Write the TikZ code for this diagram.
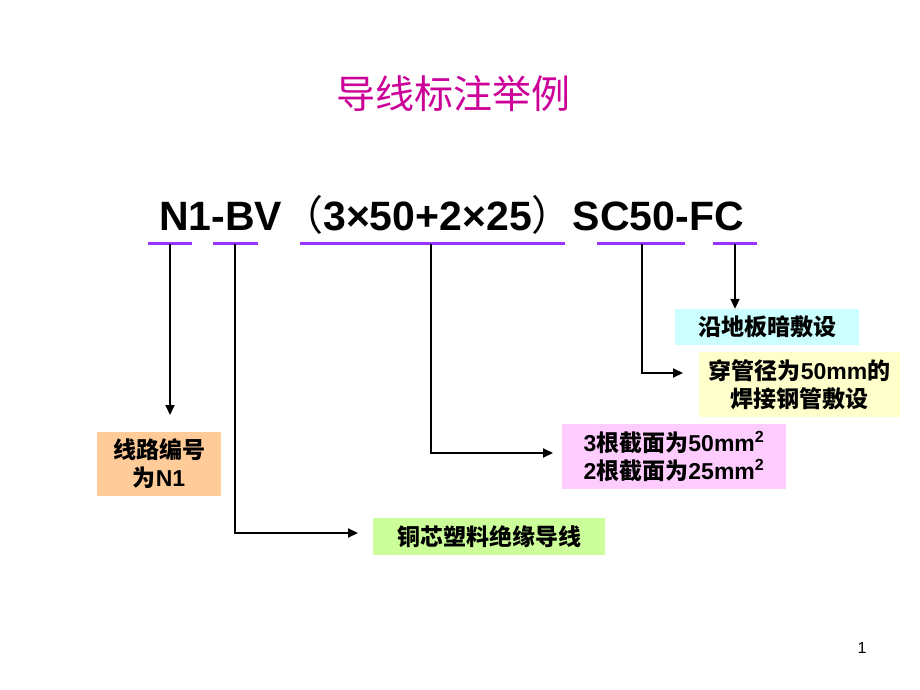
\documentclass[tikz,border=0pt]{standalone}
\usepackage{fontspec}
\setmainfont{Liberation Sans}
\newfontfamily\cjk{Noto Sans CJK SC}
\usetikzlibrary{arrows.meta}
\definecolor{titlemagenta}{RGB}{204,0,153}
\definecolor{linepurple}{RGB}{153,51,255}
\definecolor{boxcyan}{RGB}{204,255,255}
\definecolor{boxyellow}{RGB}{255,255,204}
\definecolor{boxpink}{RGB}{255,204,255}
\definecolor{boxorange}{RGB}{255,204,153}
\definecolor{boxgreen}{RGB}{204,255,153}

\begin{document}
\begin{tikzpicture}[x=1pt,y=-1pt]

    \tikzstyle{tag} = [inner sep=0pt, align=center, font=\fontsize{23}{28}\selectfont\bfseries]
    \tikzstyle{uline} = [linepurple, line width=3pt]
    \tikzstyle{lead} = [line width=2pt, -{Triangle[length=10pt,width=9pt]}]

    \useasboundingbox (0,0) rectangle (920,690);

    % Title and code
    \node[titlemagenta, font=\fontsize{39}{39}\selectfont\cjk] at (453,94) (title) {导线标注举例};
    \node[anchor=base west, inner sep=0pt, font=\fontsize{41}{41}\selectfont\bfseries] at (159,230) (code)
    {N1-BV{\cjk\mdseries （}3×50+2×25{\cjk\mdseries ）}SC50-FC};

    % Underlines
    \draw[uline] (148,243) -- (192,243);
    \draw[uline] (213,243) -- (258,243);
    \draw[uline] (300,243) -- (565,243);
    \draw[uline] (597,243) -- (685,243);
    \draw[uline] (713,243) -- (757,243);
    \coordinate (u1) at (170,244);
    \coordinate (u2) at (235,244);
    \coordinate (u3) at (431,244);
    \coordinate (u4) at (642,244);
    \coordinate (u5) at (735,244);

    % Nodes
    \node[tag, fill=boxorange, minimum width=124pt, minimum height=64pt] at (159,464) (number) {\cjk 线路编号\\{\cjk 为}N1};
    \node[tag, fill=boxgreen, minimum width=232pt, minimum height=37pt] at (489,536.5) (wire) {\cjk 铜芯塑料绝缘导线};
    \node[tag, fill=boxpink, minimum width=224pt, minimum height=65pt, align=left] at (674,456.5) (section)
    {3{\cjk 根截面为}50mm\textsuperscript{2}\\2{\cjk 根截面为}25mm\textsuperscript{2}};
    \node[tag, fill=boxyellow, minimum width=201pt, minimum height=65pt] at (799.5,384.5) (pipe)
    {{\cjk 穿管径为}50mm{\cjk 的}\\{\cjk 焊接钢管敷设}};
    \node[tag, fill=boxcyan, minimum width=184pt, minimum height=36pt] at (767,327) (floor) {\cjk 沿地板暗敷设};

    % Arrow ends
    \coordinate (t1) at (170,415);
    \coordinate (t2) at (358,533);
    \coordinate (t3) at (553,453);
    \coordinate (t4) at (683,373);

    % Arrows
    \draw[lead] (u1) -- (t1);
    \draw[lead] (u2) |- (t2);
    \draw[lead] (u3) |- (t3);
    \draw[lead] (u4) |- (t4);
    \draw[lead] (u5) -- (u5 |- floor.north);

    % Page number
    \node[font=\fontsize{16}{16}\selectfont] at (862,648) (page) {1};

\end{tikzpicture}
\end{document}
